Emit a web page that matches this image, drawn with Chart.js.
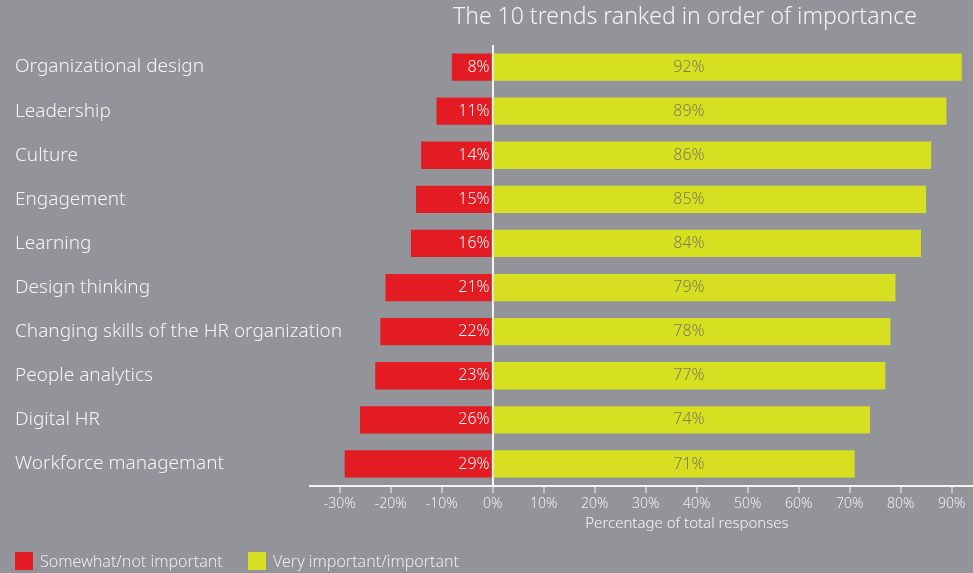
<!DOCTYPE html>
<html>
<head>
  <script src="https://cdnjs.cloudflare.com/ajax/libs/Chart.js/4.4.1/chart.umd.min.js"></script>
  <style>
    body {
      margin: 0;
      background: #939499;
    }
    .wrap {
      width: 973px;
      height: 573px;
      position: relative;
    }
  </style>
</head>
<body>
  <div class="wrap"><canvas id="trends"></canvas></div>

  <script>
    const categories = [
      'Organizational design', 'Leadership', 'Culture', 'Engagement', 'Learning',
      'Design thinking', 'Changing skills of the HR organization', 'People analytics',
      'Digital HR', 'Workforce managemant'
    ];
    const notImportant = [8, 11, 14, 15, 16, 21, 22, 23, 26, 29];
    const important = [92, 89, 86, 85, 84, 79, 78, 77, 74, 71];
    const seriesNames = ['Somewhat/not important', 'Very important/important'];
    const tickValues = [-30, -20, -10, 0, 10, 20, 30, 40, 50, 60, 70, 80, 90];

    const titleText = 'The 10 trends ranked in order of importance';
    const axisTitle = 'Percentage of total responses';

    const RED = '#e31b23';
    const YELLOW = '#d6e020';
    const FONT = '"Noto Sans", sans-serif';
    const LABEL_AT = 38.5; // value where the yellow labels and titles sit

    // category names, titles, value labels and legend
    const extras = {
      id: 'extras',
      afterDatasetsDraw(chart) {
        const ctx = chart.ctx;
        const x = chart.scales.x;
        const y = chart.scales.y;
        const zero = x.getPixelForValue(0);
        const mid = x.getPixelForValue(LABEL_AT);
        ctx.save();
        ctx.textBaseline = 'middle';

        // category labels (too long for the axis box, so drawn here)
        ctx.font = '300 19px ' + FONT;
        ctx.fillStyle = '#f4f4f4';
        ctx.textAlign = 'left';
        categories.forEach((c, i) => {
          ctx.fillText(c, y.left, y.getPixelForTick(i));
        });

        ctx.font = '300 16px ' + FONT;
        chart.getDatasetMeta(0).data.forEach((bar, i) => {
          ctx.fillStyle = '#f7f7f7';
          ctx.textAlign = 'right';
          ctx.fillText(notImportant[i] + '%', zero - 3, bar.y);
        });
        chart.getDatasetMeta(1).data.forEach((bar, i) => {
          ctx.fillStyle = '#7e7e58';
          ctx.textAlign = 'center';
          ctx.fillText(important[i] + '%', mid, bar.y);
        });

        ctx.fillStyle = '#f4f4f4';
        ctx.textAlign = 'center';
        ctx.font = '300 23px ' + FONT;
        ctx.fillText(titleText, mid - 4, 17);
        ctx.font = '300 15px ' + FONT;
        ctx.fillText(axisTitle, mid - 2, 524);

        // legend
        ctx.textAlign = 'left';
        ctx.font = '300 16px ' + FONT;
        const colors = [RED, YELLOW];
        const lx = [15, 248];
        seriesNames.forEach((name, i) => {
          ctx.fillStyle = colors[i];
          ctx.fillRect(lx[i], 552, 18, 18);
          ctx.fillStyle = '#ececec';
          ctx.fillText(name, lx[i] + 25, 562);
        });
        ctx.restore();
      }
    };

    new Chart(document.getElementById('trends'), {
      type: 'bar',
      data: {
        labels: categories,
        datasets: [{
          label: seriesNames[0],
          data: notImportant.map(v => -v),
          backgroundColor: RED,
          barPercentage: 0.62,
          categoryPercentage: 1
        },
        {
          label: seriesNames[1],
          data: important,
          backgroundColor: YELLOW,
          barPercentage: 0.62,
          categoryPercentage: 1
        }]
      },
      options: {
        indexAxis: 'y',
        responsive: true,
        maintainAspectRatio: false,
        animation: false,
        layout: { padding: { top: 45, left: 15, right: 0, bottom: 0 } },
        plugins: {
          legend: { display: false },
          title: { display: false },
          tooltip: { enabled: false }
        },
        scales: {
          x: {
            stacked: true,
            min: -35.8,
            max: 94.2,
            z: 1,
            afterBuildTicks: axis => {
              axis.ticks = tickValues.map(v => ({ value: v }));
            },
            afterFit: axis => { axis.height = 87; },
            ticks: {
              color: '#eeeeee',
              padding: 3,
              font: { family: FONT, size: 14, weight: 300 },
              callback: v => v + '%'
            },
            grid: {
              color: ctx => ctx.tick && ctx.tick.value === 0 ? '#f4f4f4' : 'rgba(0,0,0,0)',
              lineWidth: 2,
              tickColor: '#f4f4f4',
              tickLength: 7,
              tickWidth: 1
            },
            border: { color: '#f4f4f4', width: 2 }
          },
          y: {
            stacked: true,
            afterFit: axis => { axis.width = 295; },
            ticks: { display: false },
            grid: { display: false },
            border: { display: false }
          }
        }
      },
      plugins: [extras]
    });
  </script>
</body>
</html>
